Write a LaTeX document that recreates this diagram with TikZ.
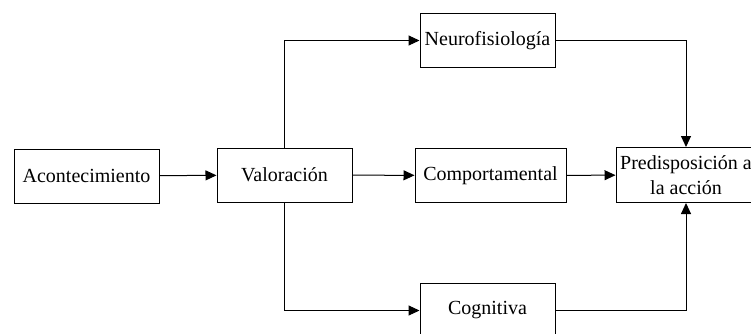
\documentclass[tikz,border=0pt]{standalone}
\usepackage{fontspec}
\setmainfont{Liberation Serif}
\usetikzlibrary{arrows.meta, positioning}

\begin{document}
\begin{tikzpicture}[x=1pt, y=-1pt,
    caja/.style={draw, line width=1pt, minimum width=136pt, minimum height=54pt,
                 inner sep=3pt, align=center, font=\fontsize{20}{25}\selectfont},
    flecha/.style={line width=1pt, -{Triangle[length=11pt, width=10pt]}}]
      \useasboundingbox (0,0) rectangle (751,333);

      % cajas
      \node[caja, minimum width=145pt] (acontec) at (86.5, 176) {Acontecimiento};
      \node[caja, minimum width=135pt] (valor) at (284.5, 175) {Valoración};
      \node[caja, minimum width=135pt] (neuro) at (487.5, 40.5) {Neurofisiología};
      \node[caja, minimum width=151pt] (comport) at (490.5, 175.5) {Comportamental};
      \node[caja, minimum width=135pt] (cogni) at (487.5, 310.5) {Cognitiva};
      \node[caja, minimum width=140pt, minimum height=55pt] (predis) at (686, 175)
        {Predisposición a\\la acción};

      % flechas
      \draw[flecha] (acontec) -- (valor);
      \draw[flecha] (valor) |- (neuro);
      \draw[flecha] (valor) -- (comport);
      \draw[flecha] (valor) |- (cogni);
      \draw[flecha] (neuro) -| (predis);
      \draw[flecha] (comport) -- (predis);
      \draw[flecha] (cogni) -| (predis);
    \end{tikzpicture}
\end{document}
